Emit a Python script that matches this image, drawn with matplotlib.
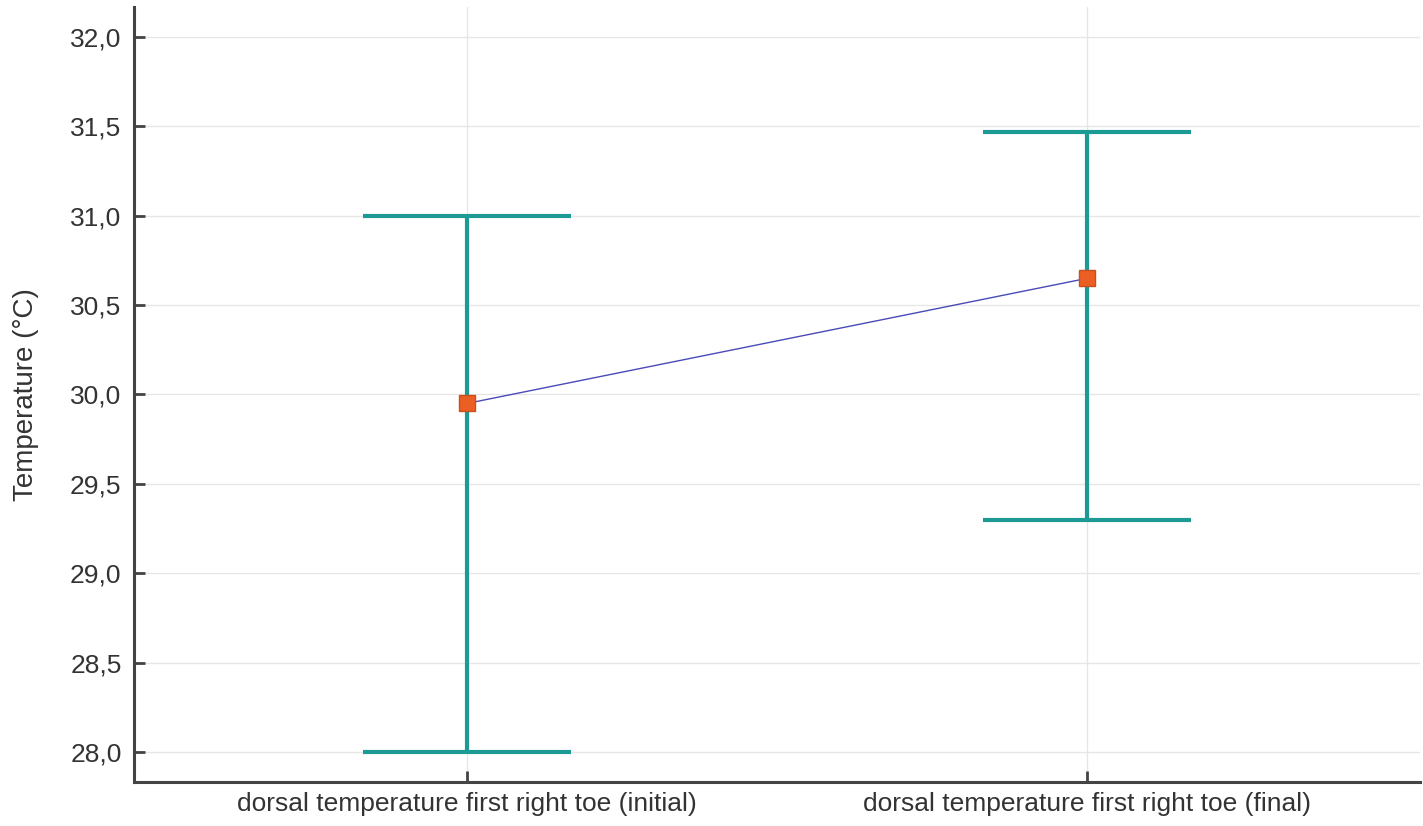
import matplotlib
matplotlib.use('Agg')
import matplotlib.pyplot as plt
from matplotlib.ticker import FuncFormatter

categories = ['dorsal temperature first right toe (initial)',
              'dorsal temperature first right toe (final)']
means = [29.95, 30.65]
lower = [28.0, 29.30]
upper = [31.0, 31.47]
yticks = [28.0, 28.5, 29.0, 29.5, 30.0, 30.5, 31.0, 31.5, 32.0]

plt.rcParams['font.family'] = ['Liberation Sans', 'DejaVu Sans']

fig = plt.figure(figsize=(14.23, 8.26), dpi=100)
ax = fig.add_axes([0.0942, 0.0533, 0.9038, 0.9382])

x = list(range(len(categories)))
err_lo = [m - l for m, l in zip(means, lower)]
err_hi = [u - m for m, u in zip(means, upper)]

# error bars first, then the mean line and markers
ax.errorbar(x, means, yerr=[err_lo, err_hi], fmt='none', ecolor='#1c9a94',
            elinewidth=3, capsize=75, capthick=3, zorder=2)
ax.plot(x, means, color='#4a4ab8', linewidth=1, zorder=3)
ax.plot(x, means, 's', markersize=11, markerfacecolor='#ec5f24',
        markeredgecolor='#c8501e', markeredgewidth=1, zorder=4)

ax.set_xlim(-0.537, 1.537)
ax.set_ylim(27.832, 32.168)
ax.set_xticks(x)
ax.set_xticklabels(categories)
ax.set_yticks(yticks)
ax.yaxis.set_major_formatter(FuncFormatter(lambda v, p: ('%.1f' % v).replace('.', ',')))
ax.set_ylabel('Temperature (°C)', fontsize=20, color='#333333', labelpad=22)

ax.grid(True, color='#e6e6e6', linewidth=1)
ax.set_axisbelow(True)
for s in ['top', 'right']:
    ax.spines[s].set_visible(False)
for s in ['left', 'bottom']:
    ax.spines[s].set_color('#444444')
    ax.spines[s].set_linewidth(2.2)
ax.tick_params(axis='both', direction='in', length=8, width=2, color='#444444',
               labelsize=19, labelcolor='#333333')
ax.tick_params(axis='x', pad=7)
ax.tick_params(axis='y', pad=9)

fig.savefig('out.png', dpi=100)
